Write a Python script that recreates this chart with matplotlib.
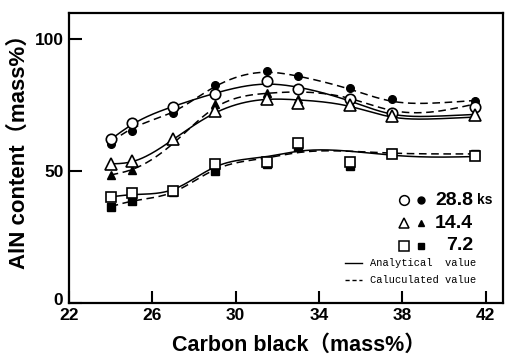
import numpy as np
import matplotlib
matplotlib.use("Agg")
import matplotlib.pyplot as plt
import matplotlib.transforms as mtransforms

plt.rcParams['font.family'] = ['Liberation Sans', 'Noto Sans CJK JP', 'DejaVu Sans']

# measured points (carbon black, mass%)
carbon = [24, 25, 27, 29, 31.5, 33, 35.5, 37.5, 41.5]
# 28.8 ks
ana_288 = [62.0, 68.1, 74.4, 79.2, 84.2, 81.0, 77.3, 72.1, 74.2]
cal_288 = [60.1, 65.3, 71.9, 82.6, 88.0, 86.1, 81.4, 77.2, 76.5]
# 14.4 ks
ana_144 = [52.7, 53.8, 62.2, 72.8, 77.3, 75.7, 74.9, 70.9, 71.3]
cal_144 = [48.5, 50.4, 61.8, 75.4, 79.5, 77.5, 75.9, 71.5, 76.7]
# 7.2 ks
ana_72 = [40.2, 41.8, 42.5, 52.5, 53.5, 60.5, 53.3, 56.3, 55.8]
cal_72 = [36.4, 38.5, 42.2, 50.0, 52.6, 59.2, 51.8, 57.0, 56.5]

# smooth curves
curve_x = [24, 25, 27, 29, 31.5, 33, 35.5, 37.5, 39.5, 41.5]
curve_ana_288 = [62.0, 67.5, 74.5, 79.5, 83.0, 81.8, 76.5, 71.6, 70.8, 71.5]
curve_cal_288 = [61.0, 66.0, 72.5, 82.0, 87.5, 86.0, 81.0, 76.5, 75.8, 76.8]
curve_ana_144 = [52.7, 53.5, 62.0, 72.0, 77.2, 77.0, 74.5, 70.5, 69.8, 70.5]
curve_cal_144 = [48.5, 50.5, 60.5, 74.0, 79.5, 80.0, 77.5, 73.0, 72.5, 75.5]
curve_ana_72 = [40.2, 41.0, 43.0, 51.5, 55.5, 57.5, 57.5, 56.0, 55.3, 55.5]
curve_cal_72 = [36.5, 38.5, 42.0, 50.5, 55.0, 57.0, 57.5, 56.8, 56.5, 56.5]


def spline(xk, yk, n=300):
    # natural cubic spline, only used to draw the smooth lines
    xk = np.asarray(xk, float)
    yk = np.asarray(yk, float)
    m = len(xk)
    h = np.diff(xk)
    A = np.zeros((m, m))
    b = np.zeros(m)
    A[0, 0] = A[-1, -1] = 1
    for i in range(1, m - 1):
        A[i, i - 1] = h[i - 1]
        A[i, i] = 2 * (h[i - 1] + h[i])
        A[i, i + 1] = h[i]
        b[i] = 6 * ((yk[i + 1] - yk[i]) / h[i] - (yk[i] - yk[i - 1]) / h[i - 1])
    M = np.linalg.solve(A, b)
    xs = np.linspace(xk[0], xk[-1], n)
    idx = np.clip(np.searchsorted(xk, xs) - 1, 0, m - 2)
    x0, x1 = xk[idx], xk[idx + 1]
    hh = x1 - x0
    t0, t1 = x1 - xs, xs - x0
    ys = (M[idx] * t0**3 + M[idx + 1] * t1**3) / (6 * hh) \
        + (yk[idx] / hh - M[idx] * hh / 6) * t0 \
        + (yk[idx + 1] / hh - M[idx + 1] * hh / 6) * t1
    return xs, ys


fig = plt.figure(figsize=(5.05, 3.57), dpi=100)
ax = fig.add_axes([69 / 505, 1 - 302.7 / 357, 434 / 505, 289.7 / 357])

for yk in [curve_ana_288, curve_ana_144, curve_ana_72]:
    xs, ys = spline(curve_x, yk)
    ax.plot(xs, ys, color='black', lw=1.1, ls='-')
for yk in [curve_cal_288, curve_cal_144, curve_cal_72]:
    xs, ys = spline(curve_x, yk)
    ax.plot(xs, ys, color='black', lw=1.1, ls=(0, (5, 3)))

ax.plot(carbon, cal_288, 'o', color='black', ms=5.5, zorder=3)
ax.plot(carbon, cal_144, '^', color='black', ms=6, zorder=3)
ax.plot(carbon, cal_72, 's', color='black', ms=5.5, zorder=3)
ax.plot(carbon, ana_288, 'o', mfc='white', mec='black', mew=1.2, ms=7.5, zorder=4)
ax.plot(carbon, ana_144, '^', mfc='white', mec='black', mew=1.2, ms=8, zorder=4)
ax.plot(carbon, ana_72, 's', mfc='white', mec='black', mew=1.2, ms=7, zorder=4)

ax.set_xlim(22, 42.83)
ax.set_ylim(0, 110)
ax.set_xticks([22, 26, 30, 34, 38, 42])
ax.set_yticks([0, 50, 100])
ax.tick_params(direction='in', length=9, width=1.5, labelsize=12.5, pad=4)
for lab in ax.get_xticklabels() + ax.get_yticklabels():
    lab.set_fontweight('bold')
# lift the "0" a little so it does not sit on the "22"
zero = ax.get_yticklabels()[0]
zero.set_transform(zero.get_transform() + mtransforms.ScaledTranslation(0, 4 / 100, fig.dpi_scale_trans))
for s in ax.spines.values():
    s.set_linewidth(1.6)

ax.set_xlabel('Carbon black（mass%）', fontsize=15.5, fontweight='bold')
ax.xaxis.set_label_coords(0.53, -0.112)
ax.set_ylabel('AlN content（mass%）', fontsize=16, fontweight='bold')
ax.yaxis.set_label_coords(-0.09, 0.54)

# legend drawn by hand
rows = [('o', '28.8'), ('^', '14.4'), ('s', '7.2')]
for i, (mk, lab) in enumerate(rows):
    y = 0.354 - i * 0.079
    ax.plot([0.772], [y], mk, transform=ax.transAxes, mfc='white', mec='black', mew=1.1, ms=7, clip_on=False)
    ax.plot([0.810], [y], mk, transform=ax.transAxes, color='black', ms=5, clip_on=False)
    ax.text(0.931, y, lab, transform=ax.transAxes, fontsize=14, fontweight='bold', va='center', ha='right')
ax.text(0.940, 0.354, 'ks', transform=ax.transAxes, fontsize=10, fontweight='bold', va='center')

ax.plot([0.636, 0.676], [0.137, 0.137], transform=ax.transAxes, color='black', lw=1.0)
ax.plot([0.636, 0.676], [0.078, 0.078], transform=ax.transAxes, color='black', lw=1.0, ls=(0, (3, 2)))
ax.text(0.693, 0.137, 'Analytical  value', transform=ax.transAxes, family='Liberation Mono',
        fontsize=7.5, va='center')
ax.text(0.693, 0.078, 'Caluculated value', transform=ax.transAxes, family='Liberation Mono',
        fontsize=7.5, va='center')

fig.savefig('out.png', dpi=100)
